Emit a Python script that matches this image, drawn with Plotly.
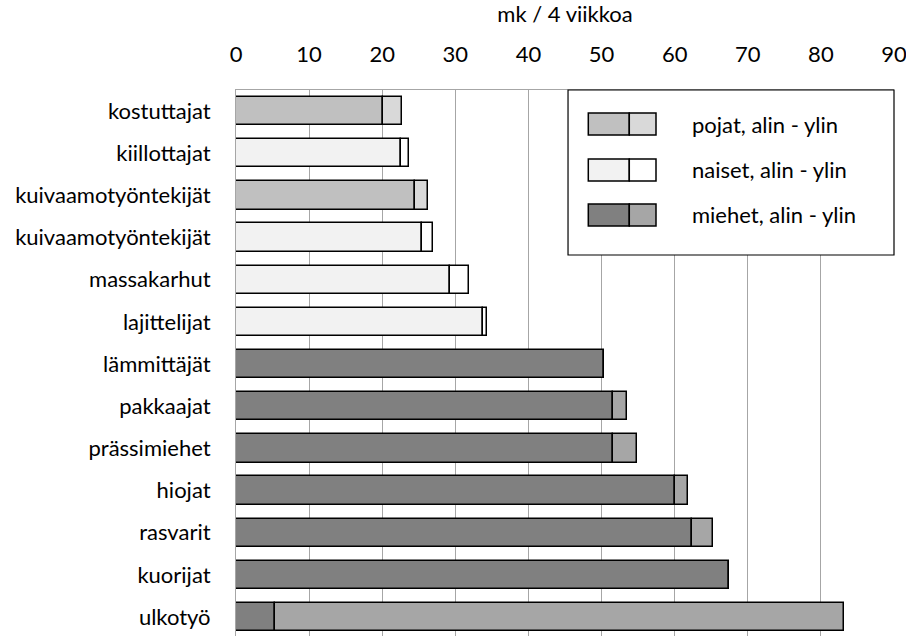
import plotly.graph_objects as go

categories = ["kostuttajat", "kiillottajat", "kuivaamotyöntekijät", "kuivaamotyöntekijät",
              "massakarhut", "lajittelijat", "lämmittäjät", "pakkaajat", "prässimiehet",
              "hiojat", "rasvarit", "kuorijat", "ulkotyö"]
groups = ["pojat", "naiset", "pojat", "naiset", "naiset", "naiset",
          "miehet", "miehet", "miehet", "miehet", "miehet", "miehet", "miehet"]
alin = [20.1, 22.6, 24.5, 25.5, 29.3, 33.8, 50.3, 51.5, 51.5, 60.1, 62.4, 67.4, 5.4]
ylin = [22.7, 23.6, 26.2, 27.0, 31.9, 34.3, 50.3, 53.5, 54.9, 61.8, 65.2, 67.4, 83.1]

group_names = ["pojat", "naiset", "miehet"]
legend_labels = ["pojat, alin - ylin", "naiset, alin - ylin", "miehet, alin - ylin"]
colors_low = {"pojat": "#c0c0c0", "naiset": "#f2f2f2", "miehet": "#808080"}
colors_high = {"pojat": "#d9d9d9", "naiset": "#ffffff", "miehet": "#a6a6a6"}

FONT = "Lato"
FS = 22

fig = go.Figure()
idx = list(range(len(categories)))
for g in group_names:
    ys = [i for i in idx if groups[i] == g]
    lo = [alin[i] for i in ys]
    diff = [ylin[i] - alin[i] for i in ys]
    fig.add_trace(go.Bar(y=ys, x=lo, base=0, orientation="h", width=0.67,
                         marker=dict(color=colors_low[g], line=dict(color="black", width=1.5)),
                         showlegend=False, hoverinfo="x+y"))
    fig.add_trace(go.Bar(y=ys, x=diff, base=lo, orientation="h", width=0.67,
                         marker=dict(color=colors_high[g], line=dict(color="black", width=1.5)),
                         showlegend=False, hoverinfo="x+y"))

# custom legend with two-part swatches
shapes = [dict(type="rect", xref="paper", yref="paper", x0=0.5046, x1=1.0, y0=0.6978, y1=1.0,
               line=dict(color="black", width=1.2), fillcolor="white", layer="above")]
annotations = []
row_y = [0.9377, 0.8535, 0.7711]
hh = 0.0201
for g, lab, yc in zip(group_names, legend_labels, row_y):
    shapes.append(dict(type="rect", xref="paper", yref="paper", x0=0.5354, x1=0.5977,
                       y0=yc - hh, y1=yc + hh, fillcolor=colors_low[g],
                       line=dict(color="black", width=1.5), layer="above"))
    shapes.append(dict(type="rect", xref="paper", yref="paper", x0=0.5977, x1=0.6383,
                       y0=yc - hh, y1=yc + hh, fillcolor=colors_high[g],
                       line=dict(color="black", width=1.5), layer="above"))
    annotations.append(dict(text=lab, xref="paper", yref="paper", x=0.690, y=yc,
                            xanchor="left", yanchor="middle", showarrow=False,
                            font=dict(family=FONT, size=FS, color="black")))

fig.update_layout(
    width=906, height=636,
    margin=dict(l=236, r=12, t=90, b=0),
    paper_bgcolor="white", plot_bgcolor="white",
    barmode="overlay", bargap=0,
    font=dict(family=FONT, size=FS, color="black"),
    shapes=shapes, annotations=annotations,
    showlegend=False,
)
fig.update_xaxes(side="top", range=[0, 90], dtick=10, tick0=0,
                 showgrid=True, gridcolor="#a6a6a6", gridwidth=1,
                 showline=True, linecolor="#a6a6a6", linewidth=1,
                 zeroline=False, ticks="", ticklabelstandoff=18,
                 ticklabeloverflow="allow",
                 title=dict(text="mk / 4 viikkoa", standoff=20,
                            font=dict(family=FONT, size=FS, color="black")),
                 tickfont=dict(family=FONT, size=FS, color="black"))
fig.update_yaxes(range=[12.45, -0.5], tickvals=idx, ticktext=categories,
                 showgrid=False, zeroline=False, showline=True, linecolor="#a6a6a6",
                 linewidth=1, ticks="", ticklabelstandoff=20,
                 tickfont=dict(family=FONT, size=FS, color="black"))

fig.write_html("out.html", config={"displayModeBar": False},
               post_script="document.body.style.margin='0';document.body.style.overflow='hidden';")
